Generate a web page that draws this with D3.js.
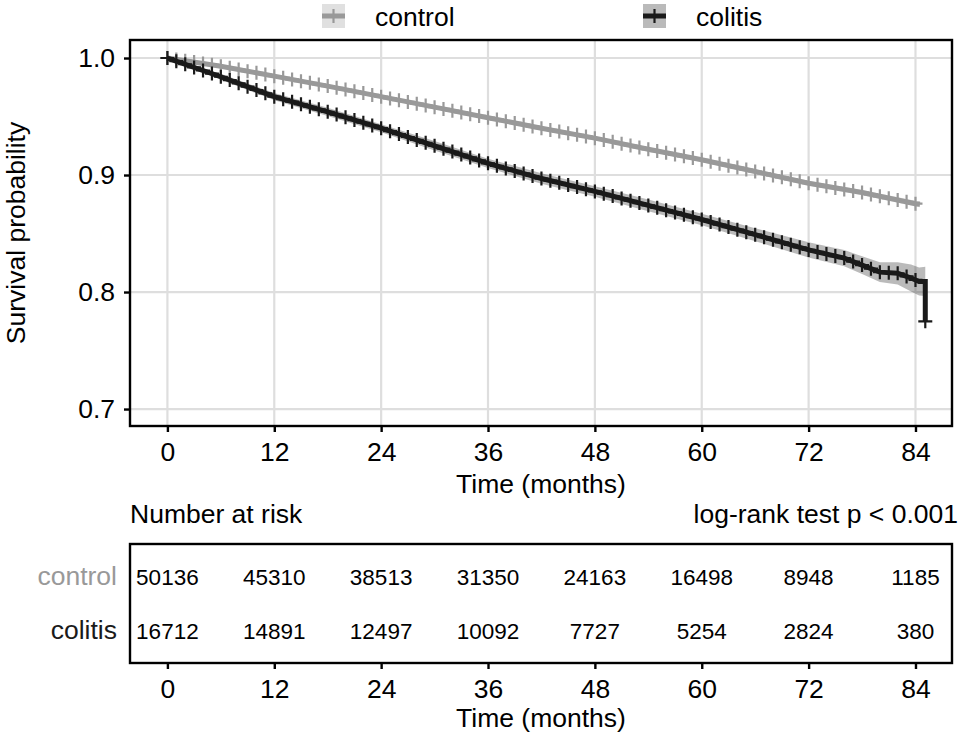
<!DOCTYPE html>
<html>
<head>
<meta charset="utf-8">
<script src="https://cdn.jsdelivr.net/npm/d3@7"></script>
<style>
  html, body { margin: 0; padding: 0; background: #fff; }
  svg { display: block; }
  text { font-family: "Liberation Sans", Arial, Helvetica, sans-serif; }
</style>
</head>
<body>
<svg id="chart" width="958" height="735"></svg>
<script>
// ---------------- data ----------------
const groups = ["control", "colitis"];
const lineColors = ["#999999", "#1a1a1a"];

const controlTime  = [0, 6, 12, 18, 24, 30, 36, 42, 48, 54, 60, 66, 72, 78, 84, 84.5];
const controlSurv  = [1.000, 0.993, 0.9845, 0.976, 0.967, 0.958, 0.949, 0.940, 0.9315, 0.922, 0.913, 0.903, 0.893, 0.885, 0.8755, 0.875];
const controlLower = [1.000, 0.992, 0.9835, 0.9748, 0.9658, 0.9567, 0.9476, 0.9385, 0.9299, 0.9203, 0.9112, 0.9011, 0.8910, 0.8828, 0.8730, 0.8724];
const controlUpper = [1.000, 0.994, 0.9855, 0.9772, 0.9682, 0.9593, 0.9504, 0.9415, 0.9331, 0.9237, 0.9148, 0.9049, 0.8950, 0.8872, 0.8780, 0.8776];

const colitisTime  = [0, 6, 12, 18, 24, 30, 36, 42, 48, 54, 60, 66, 72, 76, 78, 80, 82, 83.5, 84.4, 85.1, 85.1];
const colitisSurv  = [1.000, 0.984, 0.967, 0.954, 0.940, 0.925, 0.910, 0.897, 0.886, 0.874, 0.862, 0.849, 0.836, 0.829, 0.823, 0.817, 0.816, 0.812, 0.809, 0.809, 0.775];
const colitisLower = [1.000, 0.9815, 0.964, 0.9505, 0.9365, 0.921, 0.906, 0.8925, 0.8815, 0.869, 0.857, 0.8435, 0.8295, 0.822, 0.8155, 0.8085, 0.8065, 0.8005, 0.797, 0.7965];
const colitisUpper = [1.000, 0.9865, 0.970, 0.9575, 0.9435, 0.929, 0.914, 0.9015, 0.8905, 0.879, 0.867, 0.8545, 0.8425, 0.836, 0.8305, 0.8255, 0.8255, 0.8235, 0.821, 0.8215];

const controlCensor = [1,2,3,4,5,6,7,8,9,10,11,12,13,14,15,16,17,18,19,20,21,22,23,24,25,26,27,28,29,30,31,32,33,34,35,36,37,38,39,40,41,42,43,44,45,46,47,48,49,50,51,52,53,54,55,56,57,58,59,60,61,62,63,64,65,66,67,68,69,70,71,72,73,74,75,76,77,78,79,80,81,82,83,84];
const colitisCensor = [1,2,3,4,5,6,7,8,9,10,11,12,13,14,15,16,17,18,19,20,21,22,23,24,25,26,27,28,29,30,31,32,33,34,35,36,37,38,39,40,41,42,43,44,45,46,47,48,49,50,51,52,53,54,55,56,57,58,59,60,61,62,63,64,65,66,67,68,69,70,71,72,73,74,75,76,77,78,79,80,81,82,83,84];
const colitisLastCensor = {time: 85.1, surv: 0.775};

const xTicks = [0, 12, 24, 36, 48, 60, 72, 84];
const yTicks = [0.7, 0.8, 0.9, 1.0];
const yTickLabels = ["0.7", "0.8", "0.9", "1.0"];

const riskTimes   = [0, 12, 24, 36, 48, 60, 72, 84];
const controlRisk = [50136, 45310, 38513, 31350, 24163, 16498, 8948, 1185];
const colitisRisk = [16712, 14891, 12497, 10092, 7727, 5254, 2824, 380];

const pValueText = "log-rank test p < 0.001";

// ---------------- layout ----------------
const svg = d3.select("#chart");
const FS = 26.5;
const panel = {left: 130, right: 952, top: 40, bottom: 426};
const table = {left: 130, right: 952, top: 544, bottom: 663};

const x = d3.scaleLinear().domain([-4.2, 88.1]).range([panel.left, panel.right]);
const y = d3.scaleLinear().domain([0.6855, 1.0154]).range([panel.bottom, panel.top]);

// grid
const grid = svg.append("g");
grid.selectAll("line.gx").data(xTicks).join("line")
  .attr("x1", d => x(d)).attr("x2", d => x(d))
  .attr("y1", panel.top).attr("y2", panel.bottom)
  .attr("stroke", "#dedede").attr("stroke-width", 2.2);
grid.selectAll("line.gy").data(yTicks).join("line")
  .attr("x1", panel.left).attr("x2", panel.right)
  .attr("y1", d => y(d)).attr("y2", d => y(d))
  .attr("stroke", "#dedede").attr("stroke-width", 2.2);

// series
const series = [
  {name: "control", time: controlTime, surv: controlSurv, lo: controlLower, hi: controlUpper, censor: controlCensor, color: lineColors[0]},
  {name: "colitis", time: colitisTime, surv: colitisSurv, lo: colitisLower, hi: colitisUpper, censor: colitisCensor, color: lineColors[1]}
];

const plotG = svg.append("g");
series.forEach(s => {
  const bandPts = s.lo.map((v, i) => ({t: s.time[i], lo: v, hi: s.hi[i]}));
  plotG.append("path")
    .datum(bandPts)
    .attr("d", d3.area().x(d => x(d.t)).y0(d => y(d.lo)).y1(d => y(d.hi)))
    .attr("fill", s.color).attr("fill-opacity", 0.3);
});
series.forEach(s => {
  const pts = s.surv.map((v, i) => ({t: s.time[i], s: v}));
  plotG.append("path")
    .datum(pts)
    .attr("d", d3.line().x(d => x(d.t)).y(d => y(d.s)))
    .attr("fill", "none").attr("stroke", s.color)
    .attr("stroke-width", 5).attr("stroke-linejoin", "miter");
  // censor marks
  const interp = t => {
    for (let i = 1; i < s.time.length; i++) {
      if (t <= s.time[i]) {
        const t0 = s.time[i - 1], t1 = s.time[i];
        const f = t1 === t0 ? 0 : (t - t0) / (t1 - t0);
        return s.surv[i - 1] + f * (s.surv[i] - s.surv[i - 1]);
      }
    }
    return s.surv[s.surv.length - 1];
  };
  const marks = s.censor.map(t => ({t: t, s: interp(t)}));
  if (s.name === "colitis") marks.push({t: colitisLastCensor.time, s: colitisLastCensor.surv});
  marks.push({t: 0, s: 1});
  const h = 7;
  plotG.append("g").selectAll("path").data(marks).join("path")
    .attr("d", d => {
      const cx = x(d.t), cy = y(d.s);
      return `M${cx - h},${cy}H${cx + h}M${cx},${cy - h}V${cy + h}`;
    })
    .attr("stroke", s.color).attr("stroke-width", 2.2).attr("fill", "none");
});

// panel border
svg.append("rect")
  .attr("x", panel.left).attr("y", panel.top)
  .attr("width", panel.right - panel.left).attr("height", panel.bottom - panel.top)
  .attr("fill", "none").attr("stroke", "#000").attr("stroke-width", 2.4);

// y axis
const yAxis = svg.append("g").attr("transform", `translate(${panel.left},0)`)
  .call(d3.axisLeft(y).tickValues(yTicks).tickFormat((d, i) => yTickLabels[i]).tickSize(6).tickPadding(9));
yAxis.select(".domain").remove();
yAxis.selectAll("line").attr("stroke", "#000").attr("stroke-width", 2.4);
yAxis.selectAll("text").attr("font-size", FS).attr("fill", "#000")
  .attr("font-family", "Liberation Sans, Arial, sans-serif");

// x axis (main)
function xAxisAt(yPos) {
  const g = svg.append("g").attr("transform", `translate(0,${yPos})`)
    .call(d3.axisBottom(x).tickValues(xTicks).tickSize(6).tickPadding(10));
  g.select(".domain").remove();
  g.selectAll("line").attr("stroke", "#000").attr("stroke-width", 2.4);
  g.selectAll("text").attr("font-size", FS).attr("fill", "#000")
    .attr("font-family", "Liberation Sans, Arial, sans-serif");
  return g;
}
xAxisAt(panel.bottom);

svg.append("text").attr("x", (panel.left + panel.right) / 2).attr("y", 493)
  .attr("text-anchor", "middle").attr("font-size", FS).text("Time (months)");

svg.append("text")
  .attr("transform", `translate(25,${(panel.top + panel.bottom) / 2}) rotate(-90)`)
  .attr("text-anchor", "middle").attr("font-size", FS).text("Survival probability");

// legend
const legendPos = [{kx: 322, tx: 375}, {kx: 643, tx: 696}];
series.forEach((s, i) => {
  const g = svg.append("g");
  const kx = legendPos[i].kx, ky = 4, kw = 23, kh = 24;
  g.append("rect").attr("x", kx).attr("y", ky).attr("width", kw).attr("height", kh)
    .attr("fill", s.color).attr("fill-opacity", 0.3);
  g.append("line").attr("x1", kx).attr("x2", kx + kw).attr("y1", ky + kh / 2).attr("y2", ky + kh / 2)
    .attr("stroke", s.color).attr("stroke-width", 5);
  g.append("line").attr("x1", kx + kw / 2).attr("x2", kx + kw / 2).attr("y1", ky + kh / 2 - 7).attr("y2", ky + kh / 2 + 7)
    .attr("stroke", s.color).attr("stroke-width", 2.2);
  g.append("text").attr("x", legendPos[i].tx).attr("y", 26).attr("font-size", FS).text(s.name);
});

// risk table
svg.append("text").attr("x", table.left).attr("y", 523).attr("font-size", FS).text("Number at risk");
svg.append("text").attr("x", 958).attr("y", 523).attr("text-anchor", "end").attr("font-size", FS).text(pValueText);

svg.append("rect")
  .attr("x", table.left).attr("y", table.top)
  .attr("width", table.right - table.left).attr("height", table.bottom - table.top)
  .attr("fill", "none").attr("stroke", "#000").attr("stroke-width", 2.4);

const rows = [
  {name: "control", vals: controlRisk, base: 585, color: lineColors[0]},
  {name: "colitis", vals: colitisRisk, base: 639, color: "#1a1a1a"}
];
rows.forEach(r => {
  svg.append("text").attr("x", 117).attr("y", r.base).attr("text-anchor", "end")
    .attr("font-size", FS).attr("fill", r.color).text(r.name);
  svg.append("g").selectAll("text").data(r.vals).join("text")
    .attr("x", (d, i) => x(riskTimes[i])).attr("y", r.base)
    .attr("text-anchor", "middle").attr("font-size", 22.5).attr("fill", "#000")
    .text(d => d);
});

xAxisAt(table.bottom);
svg.append("text").attr("x", (table.left + table.right) / 2).attr("y", 727)
  .attr("text-anchor", "middle").attr("font-size", FS).text("Time (months)");
</script>
</body>
</html>
